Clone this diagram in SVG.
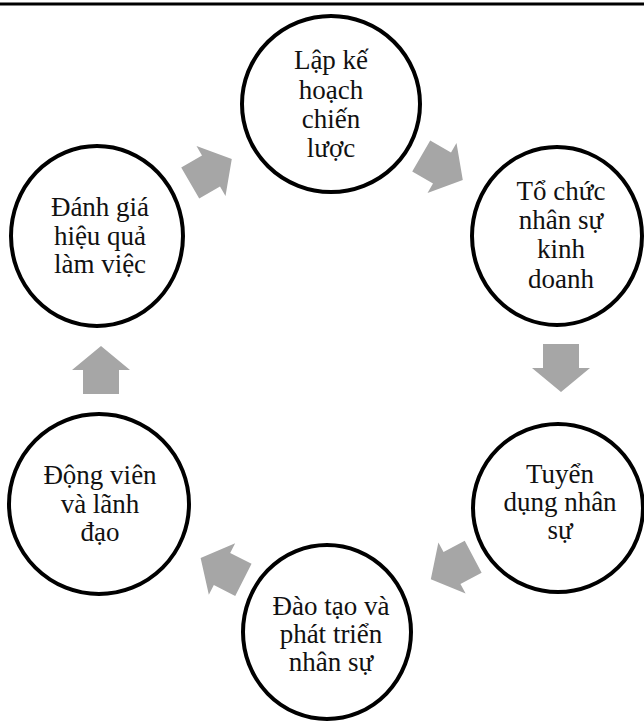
<svg xmlns="http://www.w3.org/2000/svg" width="644" height="722" viewBox="0 0 644 722">
<style>
.node ellipse{fill:#fff;stroke:#000;stroke-width:4}
.node text{font-family:"Liberation Serif","Times New Roman",serif;font-size:27px;fill:#111;text-anchor:middle}
.arr{fill:#A6A6A6}
</style>
<defs>
<polygon id="blk" points="-24,-18 0,-18 0,-29 24,0 0,29 0,18 -24,18"/>
</defs>
<rect x="0" y="0" width="644" height="722" fill="#fff"/>
<line x1="0" y1="4" x2="644" y2="4" stroke="#000" stroke-width="3"/>
<g id="connectors">
<use href="#blk" class="arr" transform="translate(211,171) rotate(-30)"/>
<use href="#blk" class="arr" transform="translate(442,168) rotate(30)"/>
<use href="#blk" class="arr" transform="translate(561,368) rotate(90)"/>
<use href="#blk" class="arr" transform="translate(452,568) rotate(152)"/>
<use href="#blk" class="arr" transform="translate(222,569) rotate(207)"/>
<use href="#blk" class="arr" transform="translate(101,370) rotate(-90)"/>
</g>
<g id="n1" class="node">
<ellipse cx="331" cy="104" rx="89" ry="88"/>
<text x="331" y="69">Lập kế</text>
<text x="331" y="99">hoạch</text>
<text x="331" y="128">chiến</text>
<text x="331" y="157">lược</text>
</g>
<g id="n2" class="node">
<ellipse cx="557" cy="236" rx="85" ry="89"/>
<text x="561" y="200">Tổ chức</text>
<text x="561" y="229">nhân sự</text>
<text x="561" y="258">kinh</text>
<text x="561" y="288">doanh</text>
</g>
<g id="n3" class="node">
<ellipse cx="558" cy="508" rx="85" ry="84"/>
<text x="560" y="483">Tuyển</text>
<text x="560" y="511">dụng nhân</text>
<text x="560" y="539">sự</text>
</g>
<g id="n4" class="node">
<ellipse cx="327" cy="632" rx="84" ry="87"/>
<text x="331" y="615">Đào tạo và</text>
<text x="331" y="643">phát triển</text>
<text x="331" y="671">nhân sự</text>
</g>
<g id="n5" class="node">
<ellipse cx="99" cy="504" rx="90" ry="90"/>
<text x="100" y="484">Động viên</text>
<text x="100" y="513">và lãnh</text>
<text x="100" y="541">đạo</text>
</g>
<g id="n6" class="node">
<ellipse cx="97" cy="236" rx="86" ry="90"/>
<text x="100" y="216">Đánh giá</text>
<text x="100" y="245">hiệu quả</text>
<text x="100" y="273">làm việc</text>
</g>
</svg>
